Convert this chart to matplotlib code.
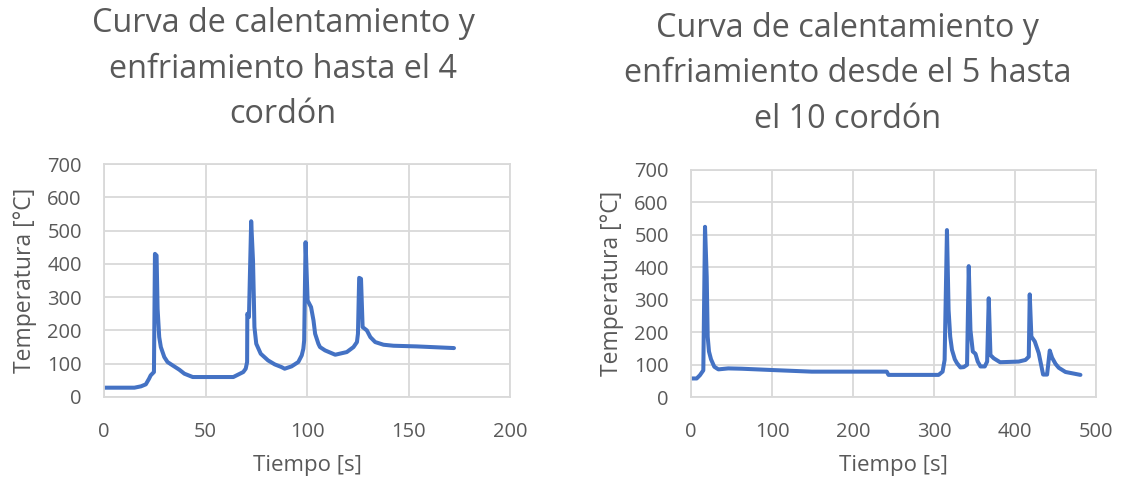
import matplotlib
matplotlib.use("Agg")
import matplotlib.pyplot as plt

# Weld pass thermal cycles: thermocouple temperature vs time
t_hasta4 = [0, 15, 18.2, 20.6, 22.2, 23, 24.6, 25.1, 25.9, 26.4, 27.2, 28, 29.7, 31.3,
            33.8, 37.1, 39.6, 43.7, 63.7,
            68.6, 69.8, 70.5, 70.6, 71.4, 72.5, 73.4, 73.8, 74.1, 75, 77.2, 80.8, 84.1,
            87.4, 89, 92.4, 95.7, 97.4, 98.2, 98.6, 99.3, 100.3, 102, 103.2, 104,
            105.6, 106.4, 108.9, 113.9, 119.6, 122.9, 124.6, 125.1, 125.7, 126.6,
            127.4, 129.5, 131.2, 133.6, 137.7, 142.6, 154, 172.4]
T_hasta4 = [28, 28, 32, 38, 55, 65, 75, 430, 425, 265, 180, 150, 120, 105,
            95, 82, 70, 60, 60,
            75, 85, 105, 250, 240, 528, 410, 300, 210, 160, 130, 110, 98,
            90, 85, 92, 105, 125, 145, 170, 465, 290, 270, 230, 190,
            160, 150, 140, 127, 135, 150, 165, 190, 358, 355,
            210, 200, 180, 165, 157, 154, 152, 147]

t_5a10 = [0, 7, 11, 15.2, 17.3, 19.4, 20.6, 22.2, 24.7, 28.8, 33.8, 46, 62.5, 100, 149,
          241.7, 243.8, 305.7, 310.6, 313.1, 316, 318, 320, 322.2, 325.7, 328.4,
          332.6, 336.7, 340.8,
          342.9, 345, 347.9, 351.2, 354, 357.4, 362.7, 365.6, 367.6, 369.7, 373.8,
          381.6, 404.6, 412.9, 417, 418.2, 420.2, 424.4, 429.3, 434.7, 439.6, 442.9,
          445.8, 450, 454, 462.3, 480.8]
T_5a10 = [58, 58, 68, 83, 525, 371, 187, 141, 117, 94, 86, 89, 88, 84, 79,
          79, 69, 69, 79, 115, 515, 269, 187, 146, 117, 105,
          92, 93, 100,
          404, 207, 141, 134, 110, 95, 95, 110, 305, 130, 120,
          108, 110, 115, 125, 317, 187, 172, 136, 70, 70, 144,
          122, 103, 91, 78, 69]

titles = ["Curva de calentamiento y\nenfriamiento hasta el 4\ncordón",
          "Curva de calentamiento y\nenfriamiento desde el 5 hasta\nel 10 cordón"]
xlabel = "Tiempo [s]"
ylabel = "Temperatura [°C]"
xlims = [(0, 200), (0, 500)]
xsteps = [50, 100]
ylim = (0, 700)
ystep = 100

LINE = "#4472C4"
TEXT = "#595959"
GRID = "#D9D9D9"

plt.rcParams["font.family"] = ["Open Sans", "DejaVu Sans"]

W, H = 1121, 484
fig = plt.figure(figsize=(W / 100, H / 100), dpi=100)

# axes boxes in pixels: left, top, right, bottom
boxes = [(104, 164, 510, 397), (691, 170, 1096, 397.3)]
title_pos = [(283, 7), (848, 12)]

series = [(t_hasta4, T_hasta4), (t_5a10, T_5a10)]

for i, (box, (tx, ty)) in enumerate(zip(boxes, series)):
    l, t, r, b = box
    ax = fig.add_axes([l / W, 1 - b / H, (r - l) / W, (b - t) / H])
    ax.plot(tx, ty, color=LINE, lw=2.9, solid_joinstyle="round", solid_capstyle="round")
    ax.set_xlim(*xlims[i])
    ax.set_ylim(*ylim)
    ax.set_xticks(range(xlims[i][0], xlims[i][1] + 1, xsteps[i]))
    ax.set_yticks(range(ylim[0], ylim[1] + 1, ystep))
    ax.grid(True, color=GRID, lw=1.3)
    ax.set_axisbelow(True)
    for s in ax.spines.values():
        s.set_color(GRID)
        s.set_linewidth(1.3)
    ax.tick_params(length=0, labelsize=14.5, labelcolor=TEXT)
    ax.tick_params(axis="y", pad=16)
    ax.tick_params(axis="x", pad=18)
    ax.set_xlabel(xlabel, fontsize=16, color=TEXT, labelpad=9)
    ax.set_ylabel(ylabel, fontsize=16.5, color=TEXT, labelpad=7)

    cx, cy = title_pos[i]
    fig.text(cx / W, 1 - cy / H, titles[i], ha="center", va="top",
             fontsize=23.3, color=TEXT, linespacing=1.5)

fig.savefig("out.png", dpi=100, facecolor="white")
